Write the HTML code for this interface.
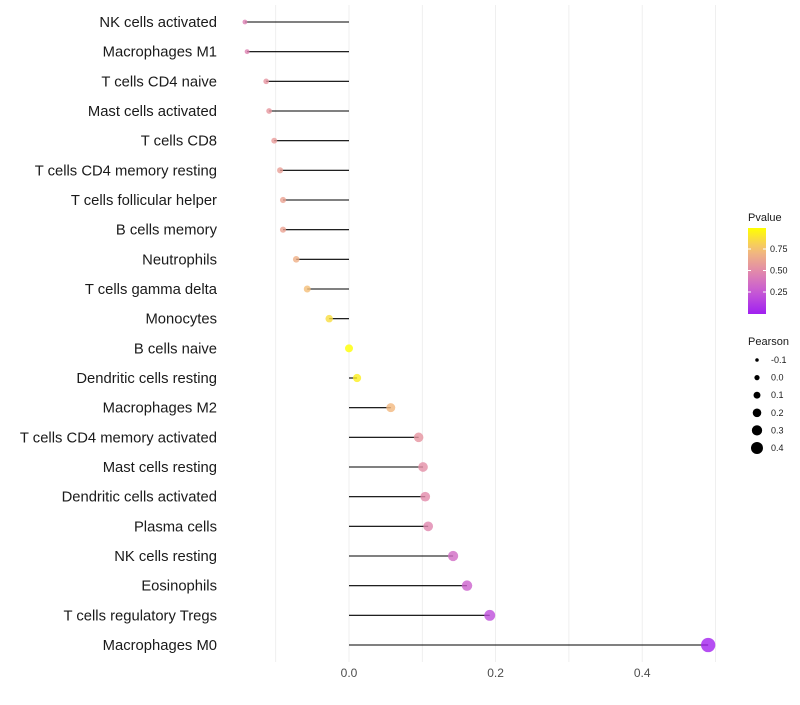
<!DOCTYPE html>
<html><head><meta charset="utf-8"><style>
body{margin:0;background:#fff;font-family:"Liberation Sans",sans-serif}
</style></head><body>
<svg id="c" width="800" height="700" xmlns="http://www.w3.org/2000/svg" font-family="Liberation Sans, sans-serif"></svg>
<script>
const categories=["NK cells activated","Macrophages M1","T cells CD4 naive","Mast cells activated","T cells CD8","T cells CD4 memory resting","T cells follicular helper","B cells memory","Neutrophils","T cells gamma delta","Monocytes","B cells naive","Dendritic cells resting","Macrophages M2","T cells CD4 memory activated","Mast cells resting","Dendritic cells activated","Plasma cells","NK cells resting","Eosinophils","T cells regulatory  Tregs","Macrophages M0"];
const pearson=[-0.142,-0.139,-0.113,-0.109,-0.102,-0.094,-0.090,-0.090,-0.072,-0.057,-0.027,0.0,0.011,0.057,0.095,0.101,0.104,0.108,0.142,0.161,0.192,0.490];
const pvalue=[0.45,0.46,0.55,0.56,0.58,0.6,0.62,0.62,0.68,0.75,0.87,1.0,0.94,0.72,0.55,0.52,0.5,0.48,0.35,0.3,0.2,0.01];
const xTicks=[0.0,0.2,0.4];
const gridVals=[-0.1,0.1,0.3,0.5];
const pTicks=[0.25,0.5,0.75];
const sizeLegend=[-0.1,0.0,0.1,0.2,0.3,0.4];
const NS="http://www.w3.org/2000/svg",svg=document.getElementById('c');
function el(t,a,p){const e=document.createElementNS(NS,t);for(const k in a)e.setAttribute(k,a[k]);(p||svg).appendChild(e);return e;}
const X=v=>349+v*733;
const Y=i=>22+i*(645-22)/(categories.length-1);
const R=v=>Math.sqrt(Math.max(2.25,16+72*v));
const stops=[[0,[160,32,240]],[0.25,[198,88,214]],[0.5,[226,138,170]],[0.75,[244,190,120]],[1,[255,255,0]]];
function col(p){for(let i=0;i<stops.length-1;i++){const[a,ca]=stops[i],[b,cb]=stops[i+1];if(p<=b){const t=(p-a)/(b-a);return 'rgb('+ca.map((c,j)=>Math.round(c+(cb[j]-c)*t)).join(',')+')';}}return 'rgb(255,255,0)';}
const grid=el('g',{});
gridVals.concat(xTicks).forEach(v=>{el('line',{x1:X(v),x2:X(v),y1:5,y2:662,stroke:'#ebebeb','stroke-width':0.8},grid);});
xTicks.forEach(v=>{const t=el('text',{x:X(v),y:677,'text-anchor':'middle','font-size':12,fill:'#4d4d4d'});t.textContent=v.toFixed(1);
});
categories.forEach((c,i)=>{
const t=el('text',{x:217,y:Y(i)+5,'text-anchor':'end','font-size':14.8,fill:'#1a1a1a'});t.textContent=c;

const l=el('line',{x1:X(0),x2:X(pearson[i]),y1:Y(i),y2:Y(i),stroke:'#000','stroke-width':1.1});

const d=el('circle',{cx:X(pearson[i]),cy:Y(i),r:R(pearson[i]),fill:col(pvalue[i]),opacity:0.8});

});
let t=el('text',{x:748,y:221,'font-size':11,fill:'#1a1a1a'});t.textContent='Pvalue';

const defs=el('defs',{});const g=el('linearGradient',{id:'pg',x1:0,y1:1,x2:0,y2:0},defs);
for(let k=0;k<=10;k++)el('stop',{offset:k/10,'stop-color':col(k/10)},g);
const cb=el('rect',{x:748,y:228,width:18,height:86,fill:'url(#pg)'});

pTicks.forEach(p=>{const y=313.5-p*86;el('line',{x1:748,x2:751,y1:y,y2:y,stroke:'#fff'});el('line',{x1:763,x2:766,y1:y,y2:y,stroke:'#fff'});
const tt=el('text',{x:770,y:y+3,'font-size':9,fill:'#1a1a1a'});tt.textContent=p.toFixed(2);
});
t=el('text',{x:748,y:345,'font-size':11,fill:'#1a1a1a'});t.textContent='Pearson';

sizeLegend.forEach((v,k)=>{const y=360+k*17.6;const c=el('circle',{cx:757,cy:y,r:2.6+v*8.5,fill:'#000'});

const tt=el('text',{x:771,y:y+3,'font-size':9,fill:'#1a1a1a'});tt.textContent=v.toFixed(1);
});
</script>
</body></html>
